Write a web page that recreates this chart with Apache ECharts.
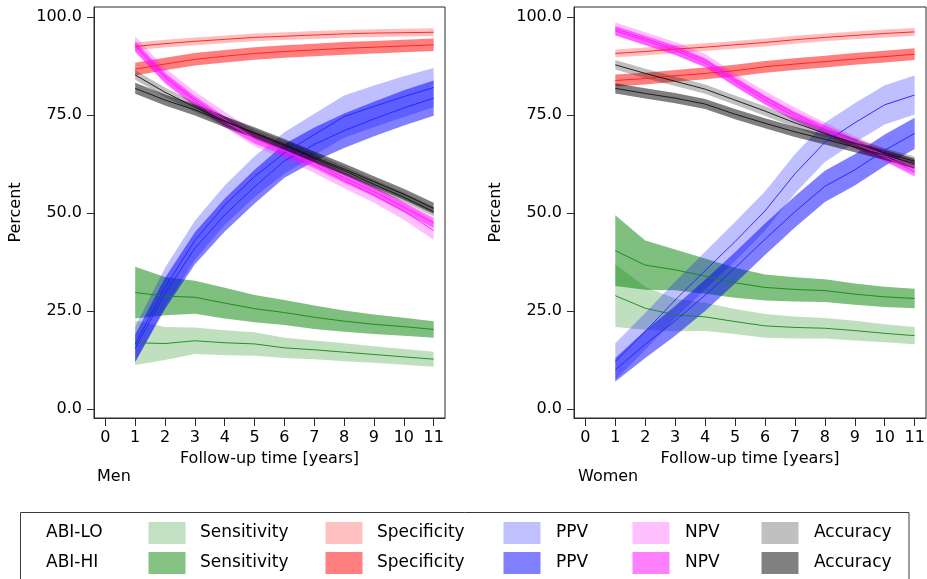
<!DOCTYPE html>
<html>
<head>
<meta charset="utf-8">
<script src="https://cdn.jsdelivr.net/npm/echarts@6/dist/echarts.min.js"></script>
<style>
html,body{margin:0;padding:0;background:#fff;}
#chart{width:927px;height:579px;}
</style>
</head>
<body>
<div id="chart"></div>
<script>
// ---------- data ----------
const years = [1, 2, 3, 4, 5, 6, 7, 8, 9, 10, 11];
const xTicks = [0, 1, 2, 3, 4, 5, 6, 7, 8, 9, 10, 11];
const yTicks = [0, 25, 50, 75, 100];
const panelTitles = ['Men', 'Women'];
const measureNames = ['Sensitivity', 'Specificity', 'PPV', 'NPV', 'Accuracy'];
const groupNames = ['ABI-LO', 'ABI-HI'];

// Men: centre estimates and half-widths of the confidence bands
const menSensLO = [16.9, 16.7, 17.4, 16.9, 16.6, 15.6, 15.1, 14.5, 13.9, 13.3, 12.7];
const menSensLOhw = [5.7, 4.2, 3.4, 3.2, 3.0, 2.6, 2.4, 2.3, 2.1, 2.0, 1.9];
const menSensHI = [29.7, 28.8, 28.5, 27.0, 25.6, 24.6, 23.4, 22.4, 21.6, 21.0, 20.3];
const menSensHIhw = [6.6, 4.9, 4.2, 3.9, 3.5, 3.2, 3.0, 2.7, 2.5, 2.3, 2.1];
const menSpecLO = [92.5, 93.2, 93.8, 94.3, 94.8, 95.1, 95.4, 95.7, 95.9, 96.0, 96.1];
const menSpecLOhw = [1.0, 1.0, 1.0, 1.0, 1.0, 1.0, 1.0, 1.0, 1.0, 1.0, 1.0];
const menSpecHI = [86.7, 88.0, 89.2, 90.0, 90.7, 91.2, 91.6, 92.0, 92.3, 92.6, 92.9];
const menSpecHIhw = [1.6, 1.6, 1.6, 1.6, 1.6, 1.6, 1.6, 1.6, 1.6, 1.6, 1.6];
const menPpvLO = [16.5, 31.0, 43.0, 52.0, 59.3, 65.3, 70.0, 74.6, 77.2, 79.7, 82.0];
const menPpvLOhw = [4.5, 5.0, 5.0, 5.0, 5.2, 5.3, 5.3, 5.4, 5.3, 5.2, 5.0];
const menPpvHI = [15.5, 29.5, 41.0, 49.5, 56.7, 63.3, 67.5, 71.0, 74.0, 76.8, 79.3];
const menPpvHIhw = [3.5, 4.0, 4.1, 4.2, 4.3, 4.3, 4.3, 4.4, 4.4, 4.5, 4.5];
const menNpvLO = [93.0, 85.0, 79.0, 73.8, 69.0, 65.8, 62.2, 58.3, 54.6, 50.5, 45.5];
const menNpvLOhw = [2.0, 2.0, 2.0, 2.0, 2.0, 2.0, 2.0, 2.0, 2.0, 2.2, 2.4];
const menNpvHI = [92.5, 84.5, 78.5, 73.3, 69.0, 66.0, 62.8, 59.0, 55.5, 51.5, 47.5];
const menNpvHIhw = [1.3, 1.3, 1.3, 1.3, 1.3, 1.3, 1.3, 1.3, 1.3, 1.3, 1.3];
const menAccLO = [85.2, 80.8, 77.0, 73.5, 70.3, 67.2, 64.0, 60.8, 57.3, 54.0, 50.3];
const menAccLOhw = [1.2, 1.2, 1.2, 1.2, 1.2, 1.2, 1.2, 1.2, 1.2, 1.2, 1.2];
const menAccHI = [81.8, 78.8, 76.3, 73.3, 70.5, 67.5, 64.3, 61.2, 58.0, 54.8, 51.2];
const menAccHIhw = [1.4, 1.4, 1.4, 1.4, 1.4, 1.4, 1.4, 1.4, 1.4, 1.4, 1.4];

// Women
const womSensLO = [28.9, 25.7, 24.0, 23.5, 22.3, 21.2, 20.8, 20.6, 20.0, 19.3, 18.7];
const womSensLOhw = [8.0, 5.5, 4.2, 3.6, 3.2, 3.0, 2.8, 2.6, 2.5, 2.3, 2.2];
const womSensHI = [40.4, 36.7, 35.5, 33.9, 32.2, 31.0, 30.5, 30.2, 29.3, 28.6, 28.2];
const womSensHIhw = [9.0, 6.3, 5.2, 4.5, 3.8, 3.3, 3.1, 2.9, 2.7, 2.6, 2.5];
const womSpecLO = [90.7, 91.2, 91.8, 92.3, 92.9, 93.5, 94.2, 94.8, 95.3, 95.8, 96.2];
const womSpecLOhw = [1.0, 1.0, 1.0, 1.0, 1.0, 1.0, 1.0, 1.0, 1.0, 1.0, 1.0];
const womSpecHI = [83.8, 84.3, 85.0, 85.6, 86.3, 87.3, 88.0, 88.6, 89.3, 89.9, 90.5];
const womSpecHIhw = [1.5, 1.5, 1.5, 1.5, 1.5, 1.5, 1.5, 1.5, 1.5, 1.5, 1.5];
const womPpvLO = [12.1, 19.8, 27.8, 35.3, 42.7, 50.5, 60.0, 68.0, 73.0, 77.6, 80.1];
const womPpvLOhw = [4.7, 4.7, 4.7, 4.8, 5.0, 5.0, 5.0, 5.0, 5.0, 5.0, 5.0];
const womPpvHI = [10.0, 16.5, 22.5, 29.0, 36.0, 43.3, 50.3, 56.8, 61.0, 66.0, 70.3];
const womPpvHIhw = [3.0, 3.5, 3.8, 4.0, 4.0, 4.0, 4.0, 4.0, 4.0, 4.0, 4.0];
const womNpvLO = [97.0, 94.5, 92.0, 89.0, 84.0, 79.5, 75.3, 71.5, 68.0, 64.8, 61.8];
const womNpvLOhw = [1.6, 1.6, 1.6, 1.6, 1.6, 1.6, 1.6, 1.6, 1.6, 1.6, 1.8];
const womNpvHI = [96.5, 94.0, 91.5, 88.3, 83.5, 78.8, 74.6, 71.2, 67.8, 64.4, 60.5];
const womNpvHIhw = [1.2, 1.2, 1.2, 1.2, 1.2, 1.2, 1.2, 1.2, 1.2, 1.2, 1.2];
const womAccLO = [87.8, 85.6, 83.6, 81.6, 78.8, 76.0, 73.0, 70.3, 67.8, 65.3, 63.2];
const womAccLOhw = [1.2, 1.2, 1.2, 1.2, 1.2, 1.2, 1.2, 1.2, 1.2, 1.2, 1.2];
const womAccHI = [81.8, 80.5, 79.3, 77.8, 75.2, 72.9, 70.7, 68.8, 66.8, 64.8, 62.6];
const womAccHIhw = [1.3, 1.3, 1.3, 1.3, 1.3, 1.3, 1.3, 1.3, 1.3, 1.3, 1.3];

// ---------- styling ----------
const FONT = 'DejaVu Sans';
const baseRGB = { Sensitivity: '0,128,0', Specificity: '255,0,0', PPV: '0,0,255', NPV: '255,0,255', Accuracy: '0,0,0' };
const lineColor = { Sensitivity: '#128a12', Specificity: '#ff1a1a', PPV: '#2020ff', NPV: '#ff1aff', Accuracy: '#111111' };
const swatchLO = ['#c2e0c2', '#ffc0c0', '#c0c0ff', '#ffc0ff', '#c0c0c0'];
const swatchHI = ['#83c283', '#ff8080', '#8080ff', '#ff80ff', '#808080'];
const groupAlpha = [0.25, 0.5];

const panels = [
  {
    Sensitivity: [[menSensLO, menSensLOhw], [menSensHI, menSensHIhw]],
    Specificity: [[menSpecLO, menSpecLOhw], [menSpecHI, menSpecHIhw]],
    PPV: [[menPpvLO, menPpvLOhw], [menPpvHI, menPpvHIhw]],
    NPV: [[menNpvLO, menNpvLOhw], [menNpvHI, menNpvHIhw]],
    Accuracy: [[menAccLO, menAccLOhw], [menAccHI, menAccHIhw]]
  },
  {
    Sensitivity: [[womSensLO, womSensLOhw], [womSensHI, womSensHIhw]],
    Specificity: [[womSpecLO, womSpecLOhw], [womSpecHI, womSpecHIhw]],
    PPV: [[womPpvLO, womPpvLOhw], [womPpvHI, womPpvHIhw]],
    NPV: [[womNpvLO, womNpvLOhw], [womNpvHI, womNpvHIhw]],
    Accuracy: [[womAccLO, womAccLOhw], [womAccHI, womAccHIhw]]
  }
];

const gridBoxes = [
  { left: 94, top: 7, width: 351, height: 411 },
  { left: 574, top: 7, width: 352, height: 411 }
];

const grids = gridBoxes.map(b => Object.assign({
  show: true, borderColor: '#2a2a2a', borderWidth: 1, backgroundColor: '#fff',
  containLabel: false, outerBoundsMode: 'none'
}, b));

const xAxes = gridBoxes.map((b, i) => ({
  type: 'value', gridIndex: i, min: -0.38, max: 11.38,
  name: 'Follow-up time [years]', nameLocation: 'middle', nameGap: 27,
  nameTextStyle: { fontFamily: FONT, fontSize: 16, color: '#000' },
  axisLine: { show: true, onZero: false, lineStyle: { color: '#2a2a2a', width: 1 } },
  axisTick: { show: true, length: 8, customValues: xTicks, lineStyle: { color: '#2a2a2a' } },
  axisLabel: { show: true, customValues: xTicks, margin: 12, fontFamily: FONT, fontSize: 16, color: '#000' },
  splitLine: { show: false }
}));

const yAxes = gridBoxes.map((b, i) => ({
  type: 'value', gridIndex: i, min: -2.3, max: 102.55,
  name: 'Percent', nameLocation: 'middle', nameGap: 70, nameRotate: 90,
  nameTextStyle: { fontFamily: FONT, fontSize: 16, color: '#000' },
  axisLine: { show: true, onZero: false, lineStyle: { color: '#2a2a2a', width: 1 } },
  axisTick: { show: true, length: 7, customValues: yTicks, lineStyle: { color: '#2a2a2a' } },
  axisLabel: { show: true, customValues: yTicks, margin: 12, fontFamily: FONT, fontSize: 16, color: '#000',
    formatter: v => Number(v).toFixed(1) },
  splitLine: { show: false }
}));

// confidence band drawn as one polygon through the axes' own coordinate mapping
function makeBand(p, center, hw, fill) {
  const lower = center.map((c, i) => c - hw[i]);
  const upper = center.map((c, i) => c + hw[i]);
  return {
    type: 'custom', xAxisIndex: p, yAxisIndex: p, silent: true, z: 2,
    data: years.map((x, i) => [x, lower[i], upper[i]]),
    encode: { x: 0, y: [1, 2] },
    renderItem: function (params, api) {
      if (params.dataIndex !== 0) return null;
      const pts = [];
      for (let i = 0; i < years.length; i++) pts.push(api.coord([years[i], upper[i]]));
      for (let i = years.length - 1; i >= 0; i--) pts.push(api.coord([years[i], lower[i]]));
      return { type: 'polygon', shape: { points: pts }, style: { fill: fill, stroke: null } };
    }
  };
}

const bandSeries = [];
const lineSeries = [];
panels.forEach((panel, p) => {
  measureNames.forEach(m => {
    panel[m].forEach(([center, hw], g) => {
      bandSeries.push(makeBand(p, center, hw, 'rgba(' + baseRGB[m] + ',' + groupAlpha[g] + ')'));
      lineSeries.push({
        type: 'line', xAxisIndex: p, yAxisIndex: p,
        data: years.map((x, i) => [x, center[i]]),
        symbol: 'none', silent: true, lineStyle: { color: lineColor[m], width: 0.9 }, z: 3
      });
    });
  });
});

// ---------- legend box & panel captions (graphic) ----------
const swatchX = [148.5, 325.5, 503.5, 632.5, 761.5];
const labelX = [200, 377, 556, 685, 814];
const rowY = [533, 563];
const graphics = [];
graphics.push({ type: 'rect', shape: { x: 20.5, y: 512.5, width: 888.5, height: 90 },
  style: { fill: '#fff', stroke: '#3a3a3a', lineWidth: 1 }, z: 10 });
groupNames.forEach((g, r) => {
  graphics.push({ type: 'text', x: 46, y: rowY[r], z: 11,
    style: { text: g, font: '17px "' + FONT + '"', fill: '#000', textVerticalAlign: 'middle' } });
  measureNames.forEach((m, k) => {
    graphics.push({ type: 'rect', z: 11, shape: { x: swatchX[k], y: rowY[r] - 11, width: 37, height: 22 },
      style: { fill: (r === 0 ? swatchLO : swatchHI)[k] } });
    graphics.push({ type: 'text', x: labelX[k], y: rowY[r], z: 11,
      style: { text: m, font: '17px "' + FONT + '"', fill: '#000', textVerticalAlign: 'middle' } });
  });
});
graphics.push({ type: 'text', x: 97, y: 477, z: 11,
  style: { text: panelTitles[0], font: '16px "' + FONT + '"', fill: '#000', textVerticalAlign: 'middle' } });
graphics.push({ type: 'text', x: 578, y: 477, z: 11,
  style: { text: panelTitles[1], font: '16px "' + FONT + '"', fill: '#000', textVerticalAlign: 'middle' } });

const chart = echarts.init(document.getElementById('chart'), null, { renderer: 'canvas' });
chart.setOption({
  animation: false,
  backgroundColor: '#fff',
  textStyle: { fontFamily: FONT },
  grid: grids,
  xAxis: xAxes,
  yAxis: yAxes,
  series: bandSeries.concat(lineSeries),
  graphic: graphics
});
</script>
</body>
</html>
